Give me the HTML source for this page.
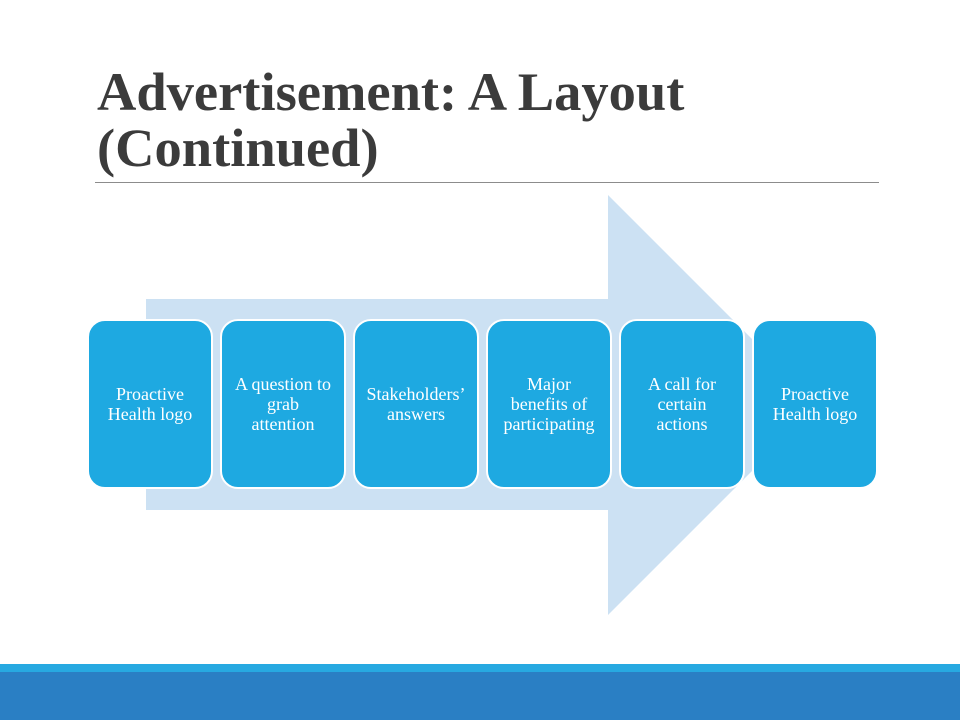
<!DOCTYPE html>
<html><head><meta charset="utf-8"><style>
body{margin:0;width:960px;height:720px;position:relative;background:#fff;overflow:hidden;font-family:"Liberation Serif",serif}
.t{position:absolute;left:97px;top:64px;font-size:54.5px;font-weight:bold;color:#3b3b3b;line-height:56px}
.hr{position:absolute;left:95px;top:182px;width:784px;height:1px;background:#8c8c8c}
.b{position:absolute;top:319px;width:122px;height:166px;background:#1ea9e1;border:2px solid #fff;border-radius:18px;display:flex;align-items:center;justify-content:center;text-align:center;color:#fff;font-size:18px;line-height:20px}
</style></head><body>
<div class="t">Advertisement: A Layout<br>(Continued)</div>
<div class="hr"></div>
<svg style="position:absolute;left:0;top:0" width="960" height="720">
<polygon points="146,299 608,299 608,195 818,405 608,615 608,510 146,510" fill="#cce1f3"/>
<rect x="0" y="664" width="960" height="8" fill="#27a9e1"/>
<rect x="0" y="672" width="960" height="48" fill="#2a7fc4"/>
</svg>
<div class="b" style="left:87px">Proactive<br>Health logo</div>
<div class="b" style="left:220px">A question to<br>grab<br>attention</div>
<div class="b" style="left:353px">Stakeholders’<br>answers</div>
<div class="b" style="left:486px">Major<br>benefits of<br>participating</div>
<div class="b" style="left:619px">A call for<br>certain<br>actions</div>
<div class="b" style="left:752px">Proactive<br>Health logo</div>
</body></html>
